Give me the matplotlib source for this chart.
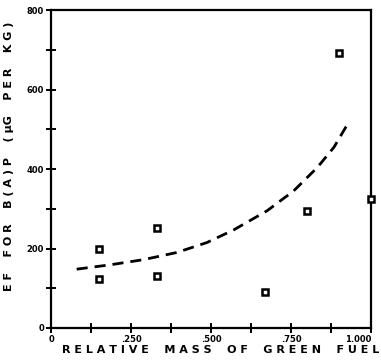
import matplotlib
matplotlib.use('Agg')
import matplotlib.pyplot as plt
import numpy as np

# measured points (relative mass of green fuel vs EF)
mass = [0.15, 0.15, 0.33, 0.33, 0.667, 0.80, 0.90, 1.00]
ef = [200, 123, 251, 131, 91, 294, 692, 324]

# dashed fit curve
fit_x = [0.080, 0.185, 0.289, 0.393, 0.487, 0.571, 0.675, 0.758, 0.832, 0.884, 0.925]
fit_y = [148, 159, 172, 190, 215, 247, 295, 345, 404, 455, 511]

xticks = [0, 0.25, 0.5, 0.75, 1.0]
xticklabels = ['0', '.250', '.500', '.750', '1.000']
yticks = [0, 200, 400, 600, 800]

fig = plt.figure(figsize=(3.81, 3.62), dpi=100)
ax = fig.add_axes([0.134, 0.094, 0.840, 0.878])

ax.plot(fit_x, fit_y, color='black', lw=2.0, dashes=(4, 2.5))
ax.plot(mass, ef, linestyle='none', marker='s', markersize=5,
        mfc='white', mec='black', mew=1.8, clip_on=False, zorder=5)

ax.set_xlim(0, 1.0)
ax.set_ylim(0, 800)
ax.set_xticks(xticks)
ax.set_xticklabels(xticklabels)
ax.set_xticks(np.arange(0.125, 1.0, 0.25), minor=True)
ax.set_yticks(yticks)
ax.set_yticks(np.arange(100, 800, 200), minor=True)

for s in ax.spines.values():
    s.set_linewidth(1.6)

ax.tick_params(which='both', direction='inout', width=1.4, labelsize=6)
ax.tick_params(which='major', length=7, pad=1.5)
ax.tick_params(which='minor', length=7)
for lab in ax.get_xticklabels() + ax.get_yticklabels():
    lab.set_fontweight('bold')
ax.get_xticklabels()[-1].set_horizontalalignment('right')

ax.set_xlabel('R E L A T I V E    M A S S    O F    G R E E N    F U E L',
              fontsize=8, fontweight='bold', labelpad=1, x=0.53)
ax.set_ylabel('E F    F O R    B ( A ) P    ( \u03bcG    P E R    K G )',
              fontsize=8, fontweight='bold', labelpad=9, y=0.54)

fig.savefig('out.png', dpi=100)
